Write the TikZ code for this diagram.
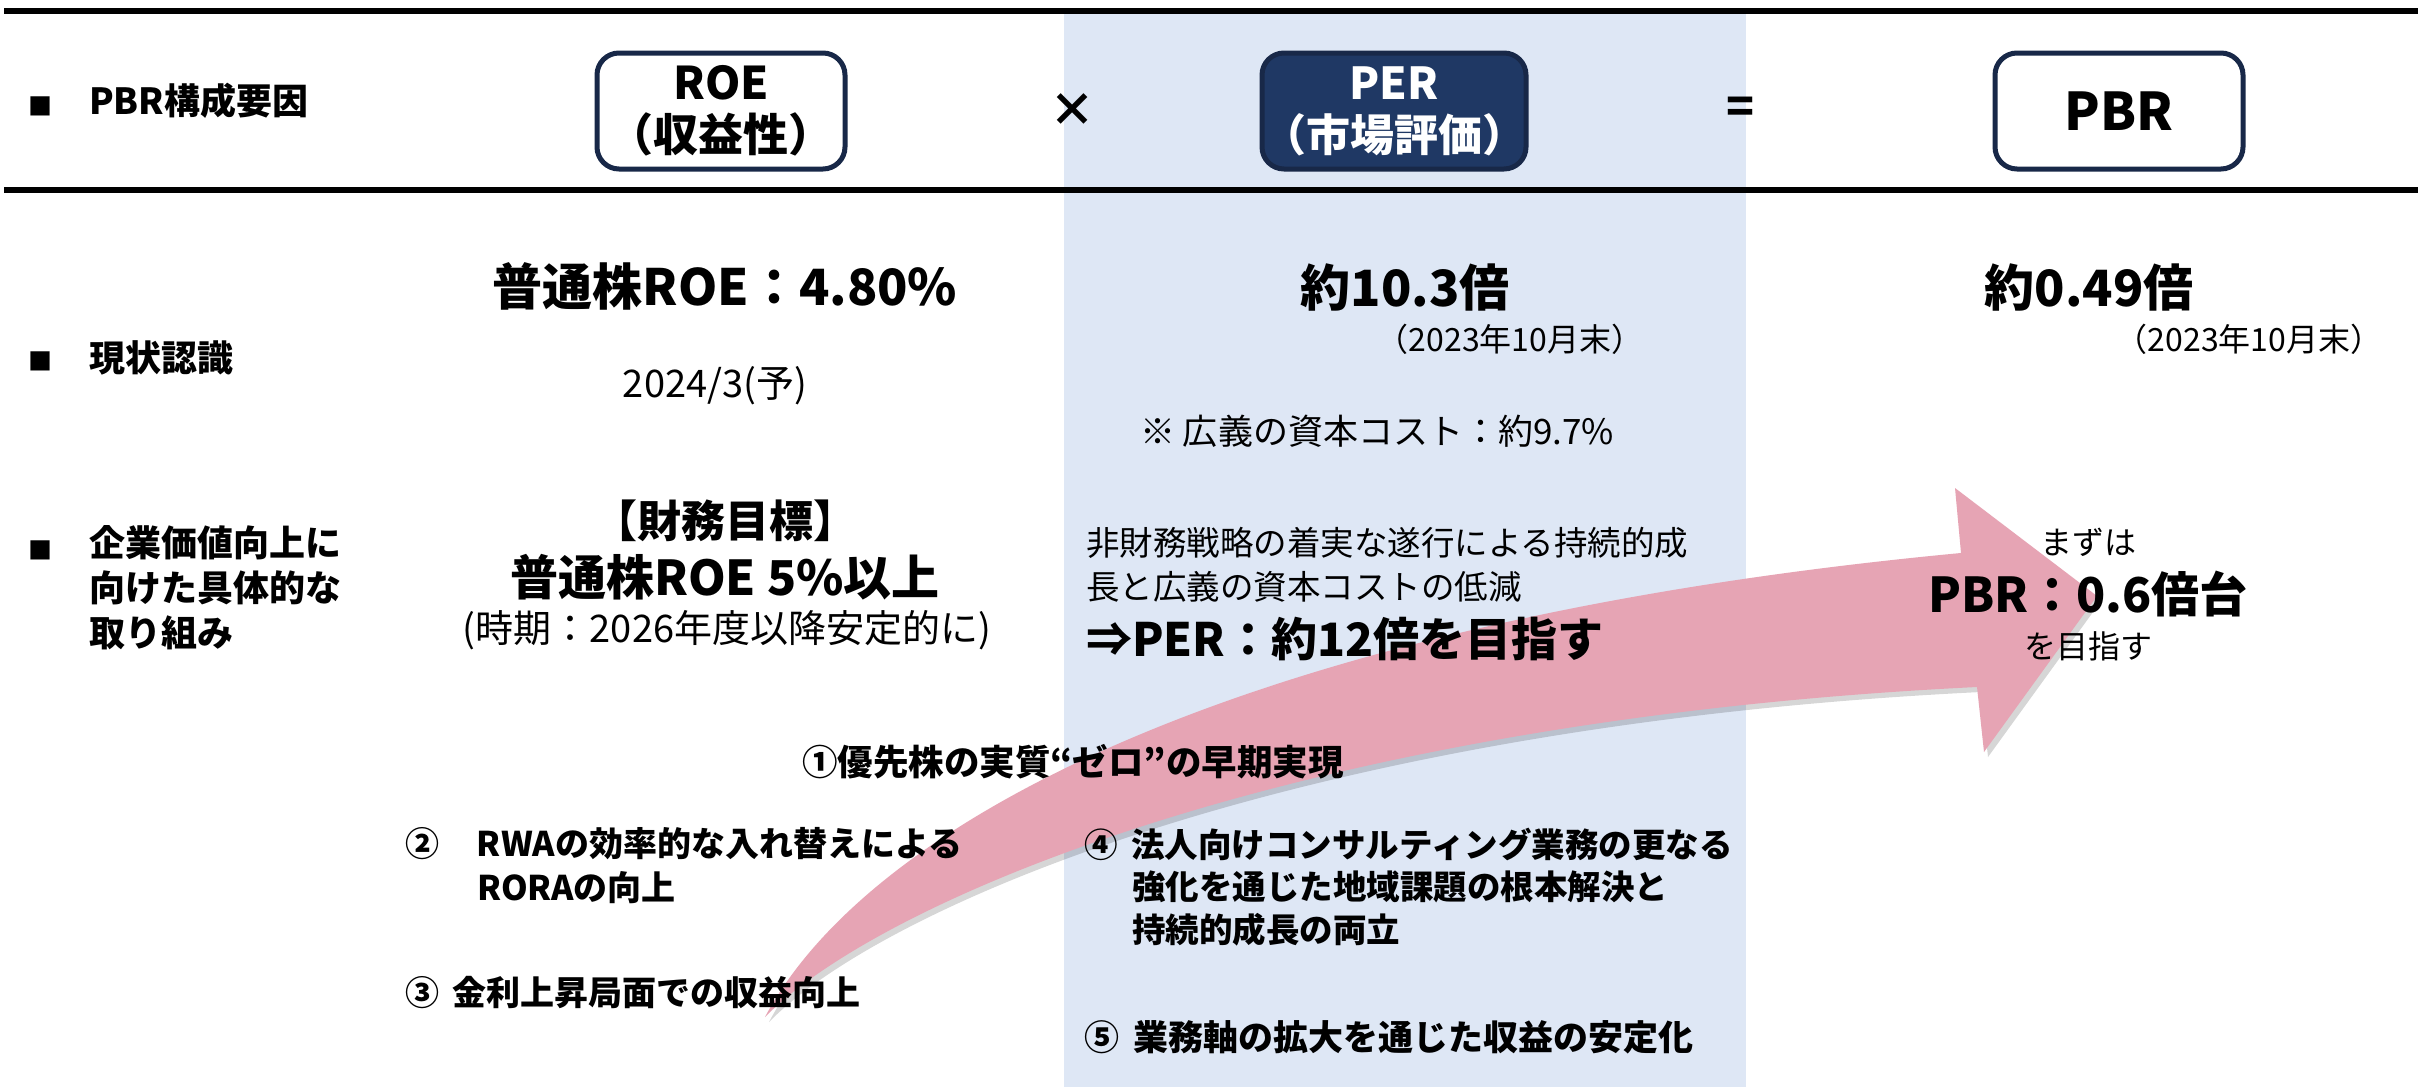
\documentclass[tikz,border=0pt]{standalone}
\usepackage{fontspec}
\setmainfont{Noto Sans CJK JP}
\definecolor{navy}{RGB}{24,40,72}
\definecolor{perfill}{RGB}{31,56,100}
\definecolor{colblue}{RGB}{222,231,245}
\definecolor{arrowpink}{RGB}{230,164,180}
\begin{document}
\begin{tikzpicture}[x=1pt,y=-1pt,
  every node/.style={inner sep=0pt, outer sep=0pt},
  rulebar/.style={line width=6pt, black},
  bullet/.style={font=\fontsize{24}{28}\selectfont},
  lbl/.style={font=\bfseries\fontsize{36}{45}\selectfont, anchor=west, align=left},
  factorbox/.style={draw=navy, line width=5pt, rounded corners=22pt, minimum width=248pt, minimum height=116pt, align=center, font=\bfseries\fontsize{45}{52}\selectfont},
  opsym/.style={font=\bfseries\fontsize{46}{50}\selectfont},
  big/.style={font=\bfseries\fontsize{50}{56}\selectfont},
  bigb/.style={font=\bfseries\fontsize{48}{54}\selectfont},
  datenote/.style={font=\fontsize{32}{38}\selectfont},
  plain/.style={font=\fontsize{38}{44}\selectfont},
  body/.style={font=\fontsize{33.5}{44}\selectfont, anchor=west},
  small/.style={font=\fontsize{32}{38}\selectfont},
  item/.style={font=\bfseries\fontsize{34}{43}\selectfont, anchor=west}
]
\useasboundingbox (0,0) rectangle (2418,1087);
\fill[white] (0,0) rectangle (2418,1087);
% PER column
\fill[colblue] (1064,14) rectangle (1746,1087);
% rules
\draw[rulebar] (4,11) -- (2418,11);
\draw[rulebar] (4,190) -- (2418,190);

% header row
\node[bullet] (b1) at (40,106) {■};
\node[lbl] (h1) at (89,101) {PBR構成要因};
\node[factorbox, fill=white] (roe) at (721,111) {ROE\\（収益性）};
\node[opsym] (times) at (1072,110) {×};
\node[factorbox, fill=perfill, text=white, font=\bfseries\fontsize{44}{52}\selectfont] (per) at (1394,111) {PER\\（市場評価）};
\node[opsym] (eq) at (1740,110) {=};
\node[factorbox, fill=white, font=\bfseries\fontsize{52}{56}\selectfont] (pbr) at (2119,111) {PBR};

% current status row
\node[bullet] (b2) at (40,361) {■};
\node[lbl] (h2) at (89,358) {現状認識};
\node[big] (roenow) at (725,286) {普通株ROE：4.80\%};
\node[plain] (roedate) at (715,386) {2024/3(予)};
\node[big] (pernow) at (1405,287) {約10.3倍};
\node[datenote] (perdate) at (1510,339) {（2023年10月末）};
\node[small, font=\fontsize{35}{40}\selectfont] (coc) at (1377,431) {※ 広義の資本コスト：約9.7\%};
\node[big] (pbrnow) at (2089,287) {約0.49倍};
\node[datenote] (pbrdate) at (2249,339) {（2023年10月末）};

% arrow (behind text)
\fill[black, opacity=0.16, shift={(4,5)}]
  (765,1017) .. controls (870,820) and (1250,620) .. (1961,553)
  -- (1955,488) -- (2097,596) -- (1984,752) -- (1977,687)
  .. controls (1300,720) and (880,900) .. (765,1017) -- cycle;
\fill[arrowpink]
  (765,1017) .. controls (870,820) and (1250,620) .. (1961,553)
  -- (1955,488) -- (2097,596) -- (1984,752) -- (1977,687)
  .. controls (1300,720) and (880,900) .. (765,1017) -- cycle;

% initiatives row
\node[bullet] (b3) at (40,550) {■};
\node[lbl, anchor=north west] (h3) at (89,525) {企業価値向上に\\向けた具体的な\\取り組み};
\node[font=\bfseries\fontsize{44}{50}\selectfont] (goal) at (725,521) {【財務目標】};
\node[bigb] (goalroe) at (725,577) {普通株ROE 5\%以上};
\node[font=\fontsize{38}{44}\selectfont] (goaldate) at (727,630) {(時期：2026年度以降安定的に)};
\node[body] (perl1) at (1086,543) {非財務戦略の着実な遂行による持続的成};
\node[body] (perl2) at (1086,587) {長と広義の資本コストの低減};
\node[bigb, font=\bfseries\fontsize{46}{54}\selectfont, anchor=west] (perl3) at (1086,639) {⇒PER：約12倍を目指す};
\node[small] (pbrl1) at (2088,542) {まずは};
\node[big, font=\bfseries\fontsize{48}{56}\selectfont] (pbrl2) at (2088,594) {PBR：0.6倍台};
\node[small] (pbrl3) at (2088,646) {を目指す};

% numbered measures
\node[item, font=\bfseries\fontsize{35.5}{43}\selectfont] (m1) at (802,762) {①優先株の実質“ゼロ”の早期実現};
\node[item] (m2a) at (405,844) {②\hspace{38pt}RWAの効率的な入れ替えによる};
\node[item] (m2b) at (477,888) {RORAの向上};
\node[item] (m3) at (405,993) {③\hspace{14pt}金利上昇局面での収益向上};
\node[item, font=\bfseries\fontsize{33.5}{43}\selectfont] (m4a) at (1084,844) {④\hspace{14pt}法人向けコンサルティング業務の更なる};
\node[item, font=\bfseries\fontsize{33.5}{43}\selectfont] (m4b) at (1132,887) {強化を通じた地域課題の根本解決と};
\node[item, font=\bfseries\fontsize{33.5}{43}\selectfont] (m4c) at (1132,930) {持続的成長の両立};
\node[item, font=\bfseries\fontsize{35}{43}\selectfont] (m5) at (1084,1037) {⑤\hspace{14pt}業務軸の拡大を通じた収益の安定化};
\end{tikzpicture}
\end{document}
